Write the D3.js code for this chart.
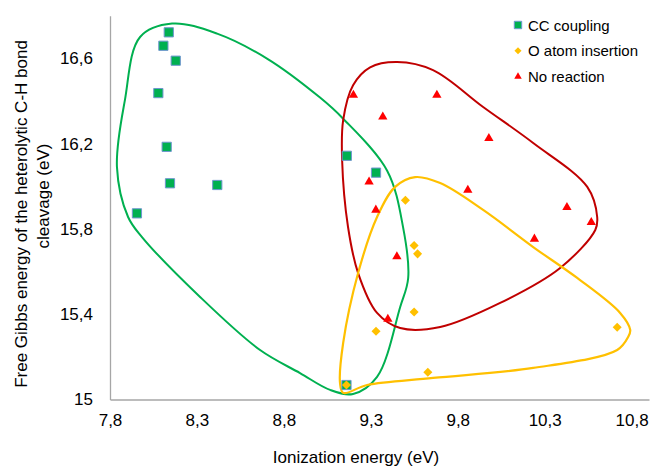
<!DOCTYPE html>
<html>
<head>
<meta charset="utf-8">
<script src="https://cdn.jsdelivr.net/npm/d3@7"></script>
<style>
  body { margin: 0; background: #fff; }
  text { font-family: Arial, "Liberation Sans", sans-serif; fill: #000; }
</style>
</head>
<body>
<svg width="650" height="469"></svg>
<script>
// series: [ionization energy, free Gibbs energy]
const ccCoupling = [
  [8.138, 16.722], [8.107, 16.659], [8.178, 16.589], [8.078, 16.437],
  [8.126, 16.185], [8.145, 16.014], [8.417, 16.006], [7.955, 15.873],
  [9.162, 16.143], [9.330, 16.064], [9.160, 15.068]
];
const oInsertion = [
  [9.499, 15.934], [9.549, 15.722], [9.569, 15.683], [9.549, 15.410],
  [9.330, 15.320], [10.717, 15.339], [9.628, 15.128], [9.160, 15.068]
];
const noReaction = [
  [9.200, 16.428], [9.680, 16.428], [9.369, 16.326], [9.979, 16.225],
  [9.290, 16.021], [9.858, 15.982], [9.329, 15.889], [10.428, 15.901],
  [10.568, 15.831], [10.241, 15.753], [9.450, 15.670], [9.398, 15.377]
];

// hand drawn outlines around each group
const greenOutline = [
  [8.157, 16.763], [8.416, 16.716], [8.703, 16.599], [9.008, 16.416], [9.141, 16.317],
  [9.394, 16.073], [9.486, 15.806], [9.515, 15.570], [9.469, 15.434], [9.336, 15.106],
  [9.198, 15.026], [9.066, 15.045], [8.893, 15.124], [8.663, 15.232], [8.318, 15.481],
  [7.984, 15.762], [7.904, 15.856], [7.840, 16.090], [7.886, 16.405], [7.973, 16.700]
];
const redOutline = [
  [9.451, 16.583], [9.658, 16.545], [9.946, 16.372], [10.234, 16.203], [10.545, 15.997],
  [10.602, 15.856], [10.591, 15.795], [10.389, 15.617], [10.044, 15.453], [9.699, 15.340],
  [9.469, 15.335], [9.336, 15.406], [9.227, 15.593], [9.169, 15.809], [9.135, 16.123],
  [9.141, 16.310], [9.198, 16.474], [9.296, 16.558]
];
const orangeOutline = [
  [9.555, 16.043], [9.699, 16.015], [9.946, 15.889], [10.234, 15.715], [10.487, 15.570],
  [10.734, 15.406], [10.792, 15.326], [10.780, 15.293], [10.717, 15.232], [10.234, 15.148],
  [9.658, 15.101], [9.279, 15.068], [9.141, 15.031], [9.123, 15.077], [9.141, 15.265],
  [9.227, 15.593], [9.336, 15.856], [9.440, 15.997]
];

const xTicks = [7.8, 8.3, 8.8, 9.3, 9.8, 10.3, 10.8];
const yTicks = [15, 15.4, 15.8, 16.2, 16.6];
const legendLabels = ['CC coupling', 'O atom insertion', 'No reaction'];

const svg = d3.select('svg');

const xScale = d3.scaleLinear().domain([7.8, 10.9]).range([110, 649]);
const yScale = d3.scaleLinear().domain([15, 16.8]).range([399.5, 15.7]);

const fmt = d => String(d).replace('.', ',');

const xAxis = d3.axisBottom(xScale).tickValues(xTicks).tickFormat(fmt).tickSize(0).tickPadding(14);
const yAxis = d3.axisLeft(yScale).tickValues(yTicks).tickFormat(fmt).tickSize(0).tickPadding(17);

const xAxisG = svg.append('g').attr('transform', `translate(0,${yScale(15)})`).call(xAxis);
const yAxisG = svg.append('g').attr('transform', `translate(${xScale(7.8)},0)`).call(yAxis);

[xAxisG, yAxisG].forEach(g => {
  g.select('.domain').attr('stroke', '#a6a6a6').attr('stroke-width', 1.3);
  g.selectAll('text').attr('font-size', 17).attr('font-family', 'Arial, "Liberation Sans", sans-serif').attr('fill', '#000');
});

// outlines
const outline = d3.line()
  .x(d => xScale(d[0]))
  .y(d => yScale(d[1]))
  .curve(d3.curveCatmullRomClosed.alpha(0.5));

svg.append('path').attr('d', outline(greenOutline))
  .attr('fill', 'none').attr('stroke', '#00b050').attr('stroke-width', 2);
svg.append('path').attr('d', outline(redOutline))
  .attr('fill', 'none').attr('stroke', '#c00000').attr('stroke-width', 2);
svg.append('path').attr('d', outline(orangeOutline))
  .attr('fill', 'none').attr('stroke', '#ffc000').attr('stroke-width', 2.2);

// markers
const square = d3.symbol().type(d3.symbolSquare).size(85);
const diamond = d3.symbol().type(d3.symbolDiamond2).size(52);
const triangle = d3.symbol().type(d3.symbolTriangle2).size(62);

svg.append('g').selectAll('path').data(ccCoupling).enter().append('path')
  .attr('d', square)
  .attr('transform', d => `translate(${xScale(d[0])},${yScale(d[1])})`)
  .attr('fill', '#00b050').attr('stroke', '#6f96cf').attr('stroke-width', 1);

svg.append('g').selectAll('path').data(oInsertion).enter().append('path')
  .attr('d', diamond)
  .attr('transform', d => `translate(${xScale(d[0])},${yScale(d[1])})`)
  .attr('fill', '#ffc000');

svg.append('g').selectAll('path').data(noReaction).enter().append('path')
  .attr('d', triangle)
  .attr('transform', d => `translate(${xScale(d[0])},${yScale(d[1])})`)
  .attr('fill', '#ff0000');

// legend
const legend = svg.append('g').attr('transform', 'translate(518,25)');
const legendSymbols = [
  { sym: d3.symbol().type(d3.symbolSquare).size(55), fill: '#00b050', stroke: '#6f96cf' },
  { sym: d3.symbol().type(d3.symbolDiamond2).size(32), fill: '#ffc000', stroke: 'none' },
  { sym: d3.symbol().type(d3.symbolTriangle2).size(40), fill: '#ff0000', stroke: 'none' }
];
legendLabels.forEach((label, i) => {
  const row = legend.append('g').attr('transform', `translate(0,${i * 25.8})`);
  row.append('path').attr('d', legendSymbols[i].sym)
    .attr('fill', legendSymbols[i].fill).attr('stroke', legendSymbols[i].stroke);
  row.append('text').attr('x', 10).attr('y', 5.5).attr('font-size', 15).text(label);
});

// axis titles
svg.append('text')
  .attr('x', 356).attr('y', 463)
  .attr('text-anchor', 'middle').attr('font-size', 17)
  .text('Ionization energy (eV)');

const yTitle = svg.append('text')
  .attr('transform', 'translate(21,210) rotate(-90)')
  .attr('text-anchor', 'middle').attr('font-size', 17);
yTitle.append('tspan').attr('x', -4).attr('y', 6).text('Free Gibbs energy of the heterolytic C-H bond');
yTitle.append('tspan').attr('x', 14).attr('y', 28).text('cleavage (eV)');
</script>
</body>
</html>
